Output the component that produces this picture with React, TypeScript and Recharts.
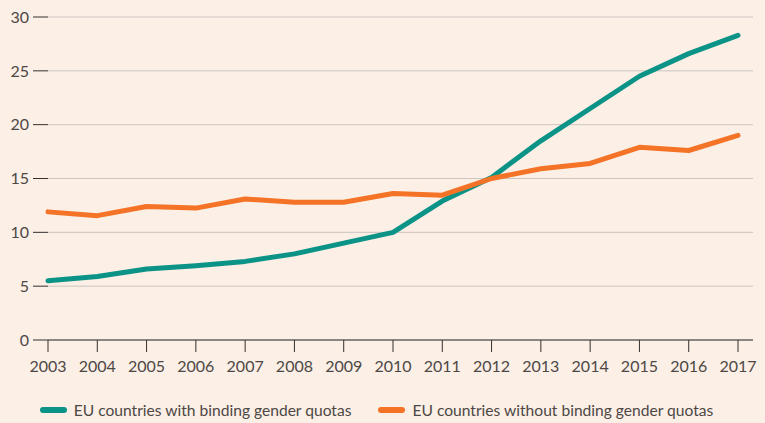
import React from "react";
import { LineChart, Line, XAxis, YAxis, CartesianGrid, Legend } from "recharts";

const years = ["2003","2004","2005","2006","2007","2008","2009","2010","2011","2012","2013","2014","2015","2016","2017"];
const withQuotas = [5.5, 5.9, 6.6, 6.9, 7.3, 8.0, 9.0, 10.0, 12.9, 15.1, 18.5, 21.5, 24.5, 26.6, 28.3];
const withoutQuotas = [11.9, 11.55, 12.4, 12.25, 13.1, 12.8, 12.8, 13.6, 13.45, 15.0, 15.9, 16.4, 17.9, 17.6, 19.0];
const yTicks = [0, 5, 10, 15, 20, 25, 30];
const seriesNames = ["EU countries with binding gender quotas", "EU countries without binding gender quotas"];
const colors = ["#0a9386", "#f47327"];

const data = years.map((y, i) => ({ year: y, a: withQuotas[i], b: withoutQuotas[i] }));

const FONT = "Lato, 'Noto Sans', sans-serif";
const TEXT = "#4d4845";

const LegendContent = () => (
  <div style={{ display: "flex", justifyContent: "center", alignItems: "center", paddingTop: 21, fontFamily: FONT, fontSize: 15.6, color: TEXT }}>
    {seriesNames.map((n, i) => (
      <div key={n} style={{ display: "flex", alignItems: "center", marginRight: i === 0 ? 27 : 0 }}>
        <span style={{ display: "inline-block", width: 27, height: 6, borderRadius: 3, background: colors[i], marginRight: 7 }} />
        <span>{n}</span>
      </div>
    ))}
  </div>
);

export default function App() {
  return (
    <div style={{ position: "fixed", inset: 0, background: "#fcefe6" }}>
      <LineChart width={765} height={423} data={data} margin={{ top: 17, right: 12, bottom: 0, left: 0 }}>
        <CartesianGrid vertical={false} stroke="#cbc5c0" strokeWidth={1} />
        <XAxis
          dataKey="year"
          padding={{ left: 0, right: 15 }}
          height={40}
          tickSize={12}
          tickMargin={9}
          stroke="#33302e"
          tick={{ fill: TEXT, fontSize: 16, fontFamily: FONT }}
          interval={0}
        />
        <YAxis
          domain={[0, 30]}
          ticks={yTicks}
          width={48}
          axisLine={false}
          tickSize={15}
          tickMargin={4}
          tickLine={{ stroke: "#33302e" }}
          tick={{ fill: TEXT, fontSize: 16, fontFamily: FONT }}
        />
        <Legend verticalAlign="bottom" height={43} content={<LegendContent />} />
        <Line type="linear" dataKey="a" name={seriesNames[0]} stroke={colors[0]} strokeWidth={5} strokeLinecap="round" strokeLinejoin="round" dot={false} isAnimationActive={false} />
        <Line type="linear" dataKey="b" name={seriesNames[1]} stroke={colors[1]} strokeWidth={5} strokeLinecap="round" strokeLinejoin="round" dot={false} isAnimationActive={false} />
      </LineChart>
    </div>
  );
}
